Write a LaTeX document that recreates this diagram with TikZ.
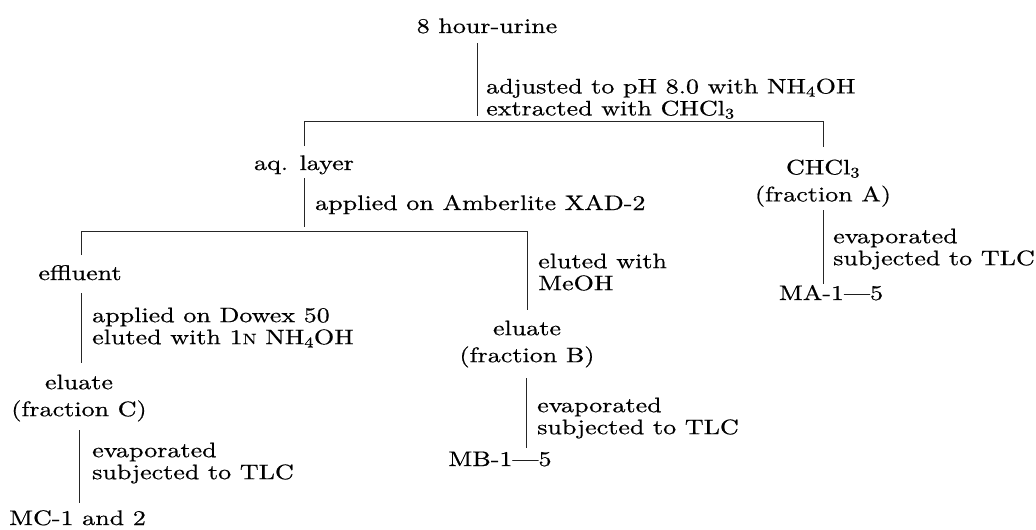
\documentclass[tikz,border=0pt]{standalone}
\usepackage{fontspec}
\setmainfont{lmroman10-regular.otf}[FakeStretch=1.24,FakeBold=0.6]
\newcommand{\smN}{{\fontsize{15}{15}\selectfont N}}
\begin{document}
\begin{tikzpicture}[x=1pt,y=-1pt,
  txt/.style={inner sep=0pt, font=\fontsize{21}{22}\selectfont},
  lab/.style={txt, align=left, anchor=north west},
  res/.style={inner sep=0pt, font=\fontsize{21}{27}\selectfont, align=center, anchor=north},
  link/.style={line width=0.8pt, black!85}]
\useasboundingbox (0,0) rectangle (1036,530);
% text nodes
\node[txt, anchor=base] (urine) at (487,33) {8 hour-urine};
\node[lab] (l1) at (486,78.4) {adjusted to pH 8.0 with NH\textsubscript{4}OH\\extracted with CHCl\textsubscript{3}};
\node[txt, anchor=base] (aq) at (304,170) {aq. layer};
\node[res] (fa) at (823,159.4) {CHCl\textsubscript{3}\\(fraction A)};
\node[txt, anchor=base west] (l2) at (315,210) {applied on Amberlite XAD-2};
\node[lab] (l3) at (538,253.4) {eluted with\\MeOH};
\node[txt, anchor=base] (eff) at (80,280) {effluent};
\node[lab] (l4) at (92,307.4) {applied on Dowex 50\\eluted with 1\smN{} NH\textsubscript{4}OH};
\node[res] (fb) at (527,320.4) {eluate\\(fraction B)};
\node[lab] (l5) at (537,397.4) {evaporated\\subjected to TLC};
\node[txt, anchor=base] (mb) at (500,466) {MB-1—5};
\node[res] (fc) at (79,374.4) {eluate\\(fraction C)};
\node[lab] (l6) at (92,442.4) {evaporated\\subjected to TLC};
\node[txt, anchor=base west] (mc) at (9,525) {MC-1 and 2};
\node[lab] (l7) at (833,228.4) {evaporated\\subjected to TLC};
\node[txt, anchor=base] (ma) at (831,300) {MA-1—5};
% connector end points
\coordinate (v1a) at (477,43);  \coordinate (v1b) at (477,116);
\coordinate (b1l) at (304,146); \coordinate (b1lt) at (304,121);
\coordinate (b1rt) at (823,121); \coordinate (b1r) at (823,147);
\coordinate (vaqa) at (304,178); \coordinate (vaqb) at (304,227);
\coordinate (b2l) at (81,255);  \coordinate (b2lt) at (81,231);
\coordinate (b2rt) at (527,231); \coordinate (b2r) at (527,310);
\coordinate (vea) at (81,293);  \coordinate (veb) at (81,363);
\coordinate (vba) at (526,378); \coordinate (vbb) at (526,448);
\coordinate (vca) at (79,430);  \coordinate (vcb) at (79,503);
\coordinate (vaa) at (823,210); \coordinate (vab) at (823,284);
% connectors
\draw[link] (v1a) -- (v1b);
\draw[link] (b1l) -- (b1lt) -- (b1rt) -- (b1r);
\draw[link] (vaqa) -- (vaqb);
\draw[link] (b2l) -- (b2lt) -- (b2rt) -- (b2r);
\draw[link] (vea) -- (veb);
\draw[link] (vba) -- (vbb);
\draw[link] (vca) -- (vcb);
\draw[link] (vaa) -- (vab);
\end{tikzpicture}
\end{document}
